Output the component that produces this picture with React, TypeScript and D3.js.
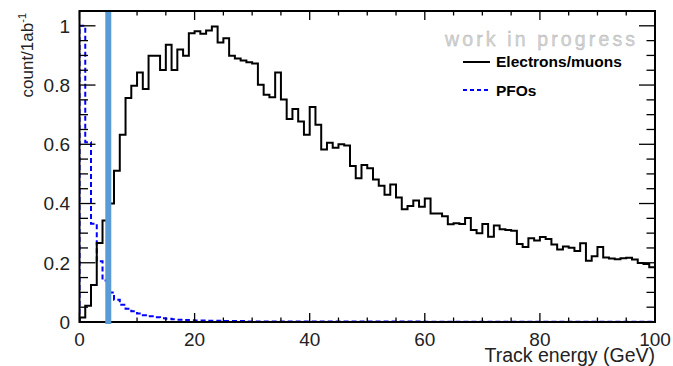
import React from "react";
import * as d3 from "d3";

// Track energy bins: 0..100 GeV, 1 GeV wide
const binEdgesStart: number[] = [
  0, 1, 2, 3, 4, 5, 6, 7, 8, 9, 10, 11, 12, 13, 14, 15, 16, 17, 18, 19,
  20, 21, 22, 23, 24, 25, 26, 27, 28, 29, 30, 31, 32, 33, 34, 35, 36, 37, 38, 39,
  40, 41, 42, 43, 44, 45, 46, 47, 48, 49, 50, 51, 52, 53, 54, 55, 56, 57, 58, 59,
  60, 61, 62, 63, 64, 65, 66, 67, 68, 69, 70, 71, 72, 73, 74, 75, 76, 77, 78, 79,
  80, 81, 82, 83, 84, 85, 86, 87, 88, 89, 90, 91, 92, 93, 94, 95, 96, 97, 98, 99,
];

const electronsMuons: number[] = [
  0.015, 0.055, 0.125, 0.267, 0.343, 0.4, 0.511, 0.632, 0.756, 0.798,
  0.842, 0.787, 0.899, 0.899, 0.851, 0.936, 0.851, 0.92, 0.899, 0.975,
  0.982, 0.973, 0.984, 0.998, 0.944, 0.958, 0.899, 0.89, 0.883, 0.877,
  0.873, 0.801, 0.767, 0.759, 0.842, 0.751, 0.685, 0.719, 0.677, 0.632,
  0.726, 0.666, 0.582, 0.605, 0.588, 0.6, 0.596, 0.527, 0.485, 0.53,
  0.519, 0.481, 0.46, 0.43, 0.464, 0.42, 0.381, 0.392, 0.41, 0.389,
  0.417, 0.366, 0.366, 0.357, 0.33, 0.333, 0.331, 0.351, 0.311, 0.3,
  0.331, 0.288, 0.326, 0.313, 0.311, 0.308, 0.263, 0.253, 0.283, 0.275,
  0.287, 0.28, 0.262, 0.245, 0.255, 0.251, 0.24, 0.266, 0.207, 0.222,
  0.253, 0.218, 0.214, 0.212, 0.215, 0.217, 0.211, 0.199, 0.196, 0.185,
];

const pfos: number[] = [
  1.0, 0.607, 0.332, 0.205, 0.14, 0.1, 0.075, 0.058, 0.045, 0.036,
  0.029, 0.023, 0.019, 0.016, 0.013, 0.011, 0.009, 0.008, 0.007, 0.006,
  0.005, 0.005, 0.004, 0.004, 0.004, 0.003, 0.003, 0.003, 0.003, 0.002,
  0.002, 0.002, 0.002, 0.002, 0.002, 0.002, 0.002, 0.002, 0.002, 0.002,
  0.002, 0.002, 0.002, 0.002, 0.002, 0.0015, 0.0015, 0.0015, 0.0015, 0.0015,
  0.0015, 0.0015, 0.0015, 0.0015, 0.0015, 0.0015, 0.0015, 0.0015, 0.0015, 0.0015,
  0.001, 0.001, 0.001, 0.001, 0.001, 0.001, 0.001, 0.001, 0.001, 0.001,
  0.001, 0.001, 0.001, 0.001, 0.001, 0.001, 0.001, 0.001, 0.001, 0.001,
  0.001, 0.001, 0.001, 0.001, 0.001, 0.001, 0.001, 0.001, 0.001, 0.001,
  0.001, 0.001, 0.001, 0.001, 0.001, 0.001, 0.001, 0.001, 0.001, 0.001,
];

const xTickValues: number[] = [0, 20, 40, 60, 80, 100];
const xTickLabels: string[] = ["0", "20", "40", "60", "80", "100"];
const yTickValues: number[] = [0, 0.2, 0.4, 0.6, 0.8, 1];
const yTickLabels: string[] = ["0", "0.2", "0.4", "0.6", "0.8", "1"];
const cutEnergy = 5;
const seriesNames: string[] = ["Electrons/muons", "PFOs"];

const FONT = "'Liberation Sans', Arial, Helvetica, sans-serif";

export default function App() {
  const W = 673;
  const H = 366;
  const x = d3.scaleLinear().domain([0, 100]).range([79.5, 655]);
  const y = d3.scaleLinear().domain([0, 1.05]).range([322, 11]);

  const stepPath = (vals: number[]) => {
    const pts: [number, number][] = [[binEdgesStart[0], 0]];
    vals.forEach((v, i) => pts.push([binEdgesStart[i], v]));
    const last = binEdgesStart[binEdgesStart.length - 1] + 1;
    pts.push([last, vals[vals.length - 1]]);
    pts.push([last, 0]);
    return d3
      .line<[number, number]>()
      .x((d) => x(d[0]))
      .y((d) => y(d[1]))
      .curve(d3.curveStepAfter)(pts) as string;
  };

  const xMinor = d3.range(0, 100.001, 5);
  const yMinor = d3.range(0, 1.0001, 0.05);
  const x0 = x(0), x1 = x(100), yb = y(0), yt = y(1.05);

  return (
    <svg
      width={W}
      height={H}
      style={{ position: "absolute", left: 0, top: 0, background: "#fff" }}
      fontFamily={FONT}
    >
      <defs>
        <clipPath id="plot">
          <rect x={x0} y={yt} width={x1 - x0} height={yb - yt} />
        </clipPath>
      </defs>

      {/* histograms */}
      <g clipPath="url(#plot)">
        <path d={stepPath(pfos)} fill="none" stroke="#0000ff" strokeWidth={2} strokeDasharray="5,3" />
        <path d={stepPath(electronsMuons)} fill="none" stroke="#000" strokeWidth={2} />
      </g>

      {/* ticks */}
      <g stroke="#000" strokeWidth={1.3}>
        {xMinor.map((v) => {
          const major = Math.abs(v % 20) < 1e-6;
          const len = major ? 9 : 4.5;
          return (
            <g key={"xt" + v}>
              <line x1={x(v)} x2={x(v)} y1={yb} y2={yb - len} />
              <line x1={x(v)} x2={x(v)} y1={yt} y2={yt + len} />
            </g>
          );
        })}
        {yMinor.map((v, i) => {
          const major = i % 4 === 0;
          const len = major ? 16 : 8.5;
          return (
            <g key={"yt" + i}>
              <line x1={x0} x2={x0 + len} y1={y(v)} y2={y(v)} />
              <line x1={x1} x2={x1 - len} y1={y(v)} y2={y(v)} />
            </g>
          );
        })}
      </g>

      {/* frame */}
      <rect x={x0} y={yt} width={x1 - x0} height={yb - yt} fill="none" stroke="#000" strokeWidth={2} />

      {/* cut line */}
      <line x1={x(cutEnergy)} x2={x(cutEnergy)} y1={12} y2={324} stroke="#5b9bd5" strokeWidth={6} />

      {/* tick labels */}
      <g fill="#222" fontSize={19}>
        {xTickValues.map((v, i) => (
          <text key={"xl" + i} x={x(v)} y={346} textAnchor="middle">
            {xTickLabels[i]}
          </text>
        ))}
        {yTickValues.map((v, i) => (
          <text key={"yl" + i} x={70} y={y(v)} dy="0.36em" textAnchor="end">
            {yTickLabels[i]}
          </text>
        ))}
      </g>

      {/* axis titles */}
      <text x={655} y={362} textAnchor="end" fontSize={19.5} fill="#222">
        Track energy (GeV)
      </text>
      <text transform="translate(33,13) rotate(-90)" textAnchor="end" fontSize={17} fill="#222">
        count/1ab
        <tspan fontSize={11} dy={-7}>-1</tspan>
      </text>

      {/* work in progress */}
      <text
        x={445}
        y={46}
        fontSize={19.5}
        fill="#d4d4d4"
        stroke="#b0b0b0"
        strokeWidth={0.35}
        textLength={190}
        lengthAdjust="spacing"
      >
        work in progress
      </text>

      {/* legend */}
      <line x1={463} x2={490} y1={62} y2={62} stroke="#000" strokeWidth={2} />
      <text x={496} y={67.3} fontSize={15.5} fontWeight="bold" fill="#000">
        {seriesNames[0]}
      </text>
      <line x1={463} x2={490} y1={90} y2={90} stroke="#0000ff" strokeWidth={2} strokeDasharray="4,3" />
      <text x={496} y={95.7} fontSize={15.5} fontWeight="bold" fill="#000">
        {seriesNames[1]}
      </text>
    </svg>
  );
}
